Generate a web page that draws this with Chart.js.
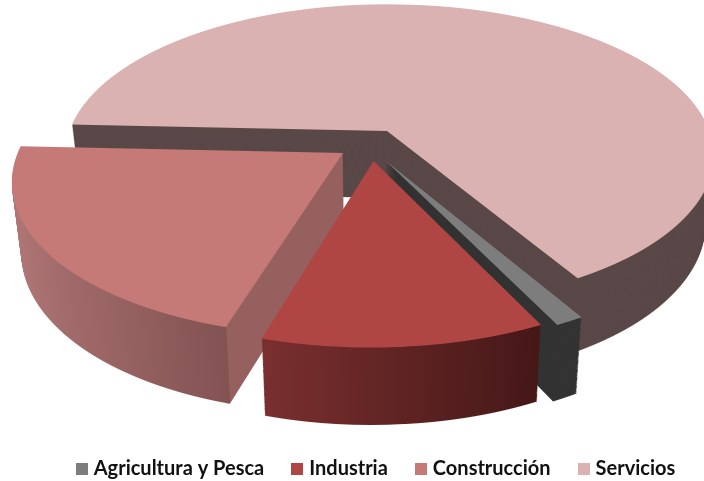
<!DOCTYPE html>
<html><head><meta charset="utf-8">
<style>html,body{margin:0;padding:0;background:#fff}canvas{display:block}</style>
<script src="https://cdn.jsdelivr.net/npm/chart.js@4"></script>
</head><body><canvas id="c" width="704" height="481"></canvas>
<script>
const categories = ["Agricultura y Pesca", "Industria", "Construcción", "Servicios"];
const shares = [1.2, 11.85, 21.15, 65.8];
const topColors = ["#7d7d7d", "#b04644", "#c57a78", "#dab2b2"];

// Perspective of the 3-D pie
const view = {cx:387, cy:131, k:0.466, a:1/1950, depth:67, grow:0.0004, shrink:0.025};
const explode = [[-1,62.4],[-13,62.4],[-43,46],[0,0]];
const sliceScaleX = [1,1,1.005,1.005];
const sliceScaleY = [0.99,0.99,0.99,1];
const rightStretch = [1.01,1,1,1.015];
const drawOrder = [3,0,2,1];

function invY(dy){ return dy/(view.k+view.a*dy); }
function sideFill(ctx,i,arc){
  const R=arc.outerRadius, xs=arc.x+R*Math.cos(arc.startAngle), xe=arc.x+R*Math.cos(arc.endAngle);
  if(i===0) return "#333333";
  if(i===3) return "#5a4848";
  if(i===1){
    const g=ctx.createLinearGradient(xe,0,xs,0);
    g.addColorStop(0,"#7a2f2f"); g.addColorStop(1,"#451717"); return g;
  }
  const l=arc.x-R, g=ctx.createLinearGradient(l,0,arc.x,0), f=(xs-l)/R;
  g.addColorStop(0,"#b27878"); g.addColorStop(f,"#835252");
  g.addColorStop(Math.min(1,f+0.001),"#96605e"); g.addColorStop(1,"#96605e");
  return g;
}
function yRange(arc){
  let lo=0,hi=0;
  const n=40;
  for(let j=0;j<=n;j++){
    const t=arc.startAngle+(arc.endAngle-arc.startAngle)*j/n, y=Math.sin(t)*arc.outerRadius;
    lo=Math.min(lo,y);hi=Math.max(hi,y);
  }
  return [lo-2,hi+2];
}
function drawLayer(ctx,arc,ghost,i,u,range){
  const [ex,ey]=explode[i], qx=sliceScaleX[i], qy=sliceScaleY[i], st=rightStretch[i];
  const H=ctx.canvas.height, W=ctx.canvas.width, s=1-view.shrink*u;
  for(let r=0;r<H;r++){
    const d=r+0.5-view.cy;
    const Y0=invY(d-u*view.depth);
    const shift=u*view.depth*(1+view.grow*Math.max(Y0,-300));
    const Y=invY(d-shift);
    const rel=(Y-ey)/qy;
    if(rel<range[0]||rel>range[1]) continue;
    const w=1/(1-view.a*Y);
    const sx=w*s*qx, sy=view.k*w*w*qy;
    const f=r+0.5+(ey-Y)*view.k*w*w-arc.y*sy;
    const e0=view.cx+ex*w*s;
    if(st===1){
      ctx.save();
      ctx.beginPath();ctx.rect(0,r,W,1);ctx.clip();
      ctx.setTransform(sx,0,0,sy,e0-arc.x*sx,f);
      ghost.draw(ctx);
      ctx.restore();
    }else{
      ctx.save();
      ctx.beginPath();ctx.rect(0,r,view.cx,1);ctx.clip();
      ctx.setTransform(sx,0,0,sy,e0-arc.x*sx,f);
      ghost.draw(ctx);
      ctx.restore();
      ctx.save();
      ctx.beginPath();ctx.rect(view.cx,r,W-view.cx,1);ctx.clip();
      ctx.setTransform(sx*st,0,0,sy,e0-arc.x*sx*st,f);
      ghost.draw(ctx);
      ctx.restore();
    }
  }
}
const pie3d = {
  id:"pie3d",
  beforeDatasetsDraw(chart){
    const ctx=chart.ctx, arcs=chart.getDatasetMeta(0).data;
    drawOrder.forEach(i=>{
      const arc=arcs[i], range=yRange(arc);
      const side=Object.create(arc);
      side.options=Object.assign({},arc.options,{backgroundColor:sideFill(ctx,i,arc),borderWidth:0});
      for(let h=view.depth;h>=1;h--) drawLayer(ctx,arc,side,i,h/view.depth,range);
      const top=Object.create(arc);
      top.options=Object.assign({},arc.options,{borderWidth:0});
      drawLayer(ctx,arc,top,i,0,range);
    });
    return false;
  }
};
function swatch(color){
  const c=document.createElement("canvas");
  c.width=12;c.height=12;
  const g=c.getContext("2d");g.fillStyle=color;g.fillRect(0,0,12,12);
  return c;
}
new Chart(document.getElementById("c"),{
  type:"pie",
  data:{labels:categories,datasets:[{data:shares,backgroundColor:topColors,borderWidth:0,radius:316}]},
  plugins:[pie3d],
  options:{
    responsive:false,animation:false,rotation:149.4,
    layout:{padding:{left:38,right:-13,top:0,bottom:-8}},
    plugins:{
      tooltip:{enabled:false},
      legend:{position:"bottom",align:"center",
        labels:{usePointStyle:true,pointStyleWidth:4,boxHeight:12,padding:31,color:"#111",
          font:{family:"Lato",weight:"bold",size:20},
          generateLabels(chart){
            const items=Chart.overrides.pie.plugins.legend.labels.generateLabels(chart);
            items.forEach((it,i)=>{it.pointStyle=swatch(topColors[i]);});
            return items;
          }}}
    }
  }
});
</script></body></html>
